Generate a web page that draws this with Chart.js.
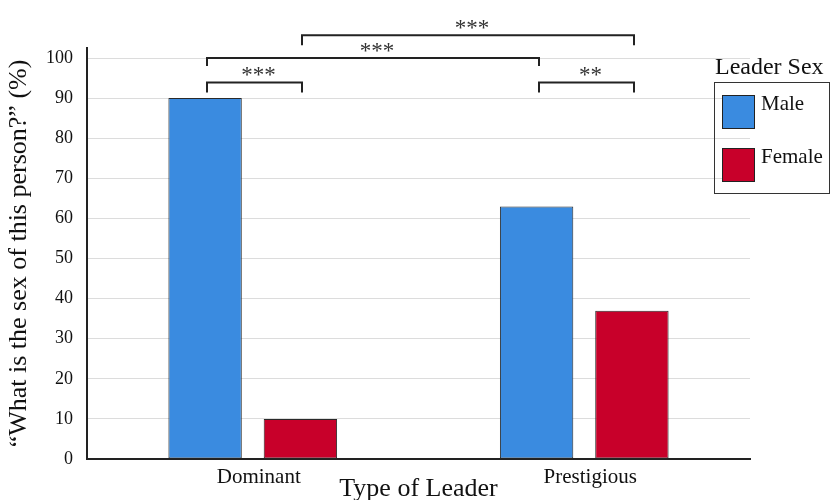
<!DOCTYPE html>
<html>
<head>
<meta charset="utf-8">
<script src="https://cdn.jsdelivr.net/npm/chart.js@4.4.1/dist/chart.umd.min.js"></script>
<style>
  html, body { margin: 0; padding: 0; background: #fff; }
  #wrap { width: 831px; height: 500px; position: relative; }
</style>
</head>
<body>
<div id="wrap"><canvas id="leader-chart"></canvas></div>
<script>
// chart data
const categories = ['Dominant', 'Prestigious'];
const maleValues = [90, 63];
const femaleValues = [10, 37];
const yTicks = [0, 10, 20, 30, 40, 50, 60, 70, 80, 90, 100];

// significance brackets: [datasetIndex, categoryIndex] on each end
const bracketLeft = [[0, 0], [0, 0], [1, 0], [0, 1]];
const bracketRight = [[1, 0], [0, 1], [1, 1], [1, 1]];
const bracketLevel = [93.9, 100, 105.7, 93.9];
const bracketDrop = [10, 8, 10, 10];
const bracketLabel = ['***', '***', '***', '**'];

const serif = "'Liberation Serif', 'DejaVu Serif', serif";

// draws the brackets with stars above the bars
const bracketPlugin = {
    id: 'brackets',
    afterDatasetsDraw(chart) {
        const { ctx, scales } = chart;
        ctx.save();
        ctx.strokeStyle = '#222';
        ctx.lineWidth = 2;
        ctx.fillStyle = '#333';
        ctx.font = '23px ' + serif;
        ctx.textAlign = 'center';
        ctx.textBaseline = 'alphabetic';
        for (let i = 0; i < bracketLabel.length; i++) {
            const a = chart.getDatasetMeta(bracketLeft[i][0]).data[bracketLeft[i][1]];
            const b = chart.getDatasetMeta(bracketRight[i][0]).data[bracketRight[i][1]];
            const y = scales.y.getPixelForValue(bracketLevel[i]);
            const x1 = Math.round(a.x) + 2;
            const x2 = Math.round(b.x) + 2;
            ctx.beginPath();
            ctx.moveTo(x1, y + bracketDrop[i]);
            ctx.lineTo(x1, y);
            ctx.lineTo(x2, y);
            ctx.lineTo(x2, y + bracketDrop[i]);
            ctx.stroke();
            ctx.fillText(bracketLabel[i], (x1 + x2) / 2 + 4, y);
        }
        ctx.restore();
    }
};

// legend box on the right, with title
const legendPlugin = {
    id: 'boxLegend',
    afterDraw(chart) {
        const { ctx } = chart;
        ctx.save();
        ctx.fillStyle = '#111';
        ctx.font = '24px ' + serif;
        ctx.textBaseline = 'alphabetic';
        ctx.textAlign = 'left';
        ctx.fillText('Leader Sex', 715, 74);

        ctx.strokeStyle = '#333';
        ctx.lineWidth = 1;
        ctx.strokeRect(714.5, 82.5, 115, 111);

        const rows = [95, 148];
        chart.data.datasets.forEach((ds, i) => {
            ctx.fillStyle = ds.backgroundColor;
            ctx.fillRect(722, rows[i], 33, 34);
            ctx.strokeStyle = '#222';
            ctx.strokeRect(722.5, rows[i] + 0.5, 32, 33);
            ctx.fillStyle = '#111';
            ctx.font = '21px ' + serif;
            ctx.fillText(ds.label, 761, rows[i] + 15);
        });
        ctx.restore();
    }
};

new Chart(document.getElementById('leader-chart').getContext('2d'), {
    type: 'bar',
    data: {
        labels: categories,
        datasets: [{
            label: 'Male',
            data: maleValues,
            backgroundColor: '#3A8BE0',
            borderColor: '#2a2a2a',
            borderWidth: 1,
            borderSkipped: false
        }, {
            label: 'Female',
            data: femaleValues,
            backgroundColor: '#C8002A',
            borderColor: '#2a2a2a',
            borderWidth: 1,
            borderSkipped: false
        }]
    },
    options: {
        responsive: true,
        maintainAspectRatio: false,
        animation: false,
        layout: {
            padding: { left: 0, right: 81, top: 48, bottom: 0 }
        },
        datasets: {
            bar: {
                categoryPercentage: 0.575,
                barPercentage: 0.77
            }
        },
        scales: {
            x: {
                grid: { display: false, drawTicks: false },
                border: { display: true, color: '#222', width: 2 },
                ticks: {
                    color: '#111',
                    font: { family: serif, size: 21 },
                    padding: 6,
                    labelOffset: 6
                },
                title: {
                    display: true,
                    text: 'Type of Leader',
                    color: '#111',
                    font: { family: serif, size: 26 },
                    padding: { top: 0, bottom: -5 }
                },
                afterFit: (s) => { s.height = 41; }
            },
            y: {
                min: 0,
                max: 102.5,
                afterBuildTicks: (s) => { s.ticks = yTicks.map(v => ({ value: v })); },
                grid: { color: '#dcdcdc', lineWidth: 1, drawTicks: false },
                border: { display: true, color: '#222', width: 2 },
                ticks: {
                    color: '#111',
                    font: { family: serif, size: 18 },
                    padding: 14
                },
                title: {
                    display: true,
                    text: '\u201CWhat is the sex of this person?\u201D (%)',
                    color: '#111',
                    font: { family: serif, size: 26 },
                    padding: { top: 4, bottom: 0 }
                },
                afterFit: (s) => { s.width = 87; }
            }
        },
        plugins: {
            legend: { display: false },
            tooltip: { enabled: false }
        }
    },
    plugins: [bracketPlugin, legendPlugin]
});
</script>
</body>
</html>
